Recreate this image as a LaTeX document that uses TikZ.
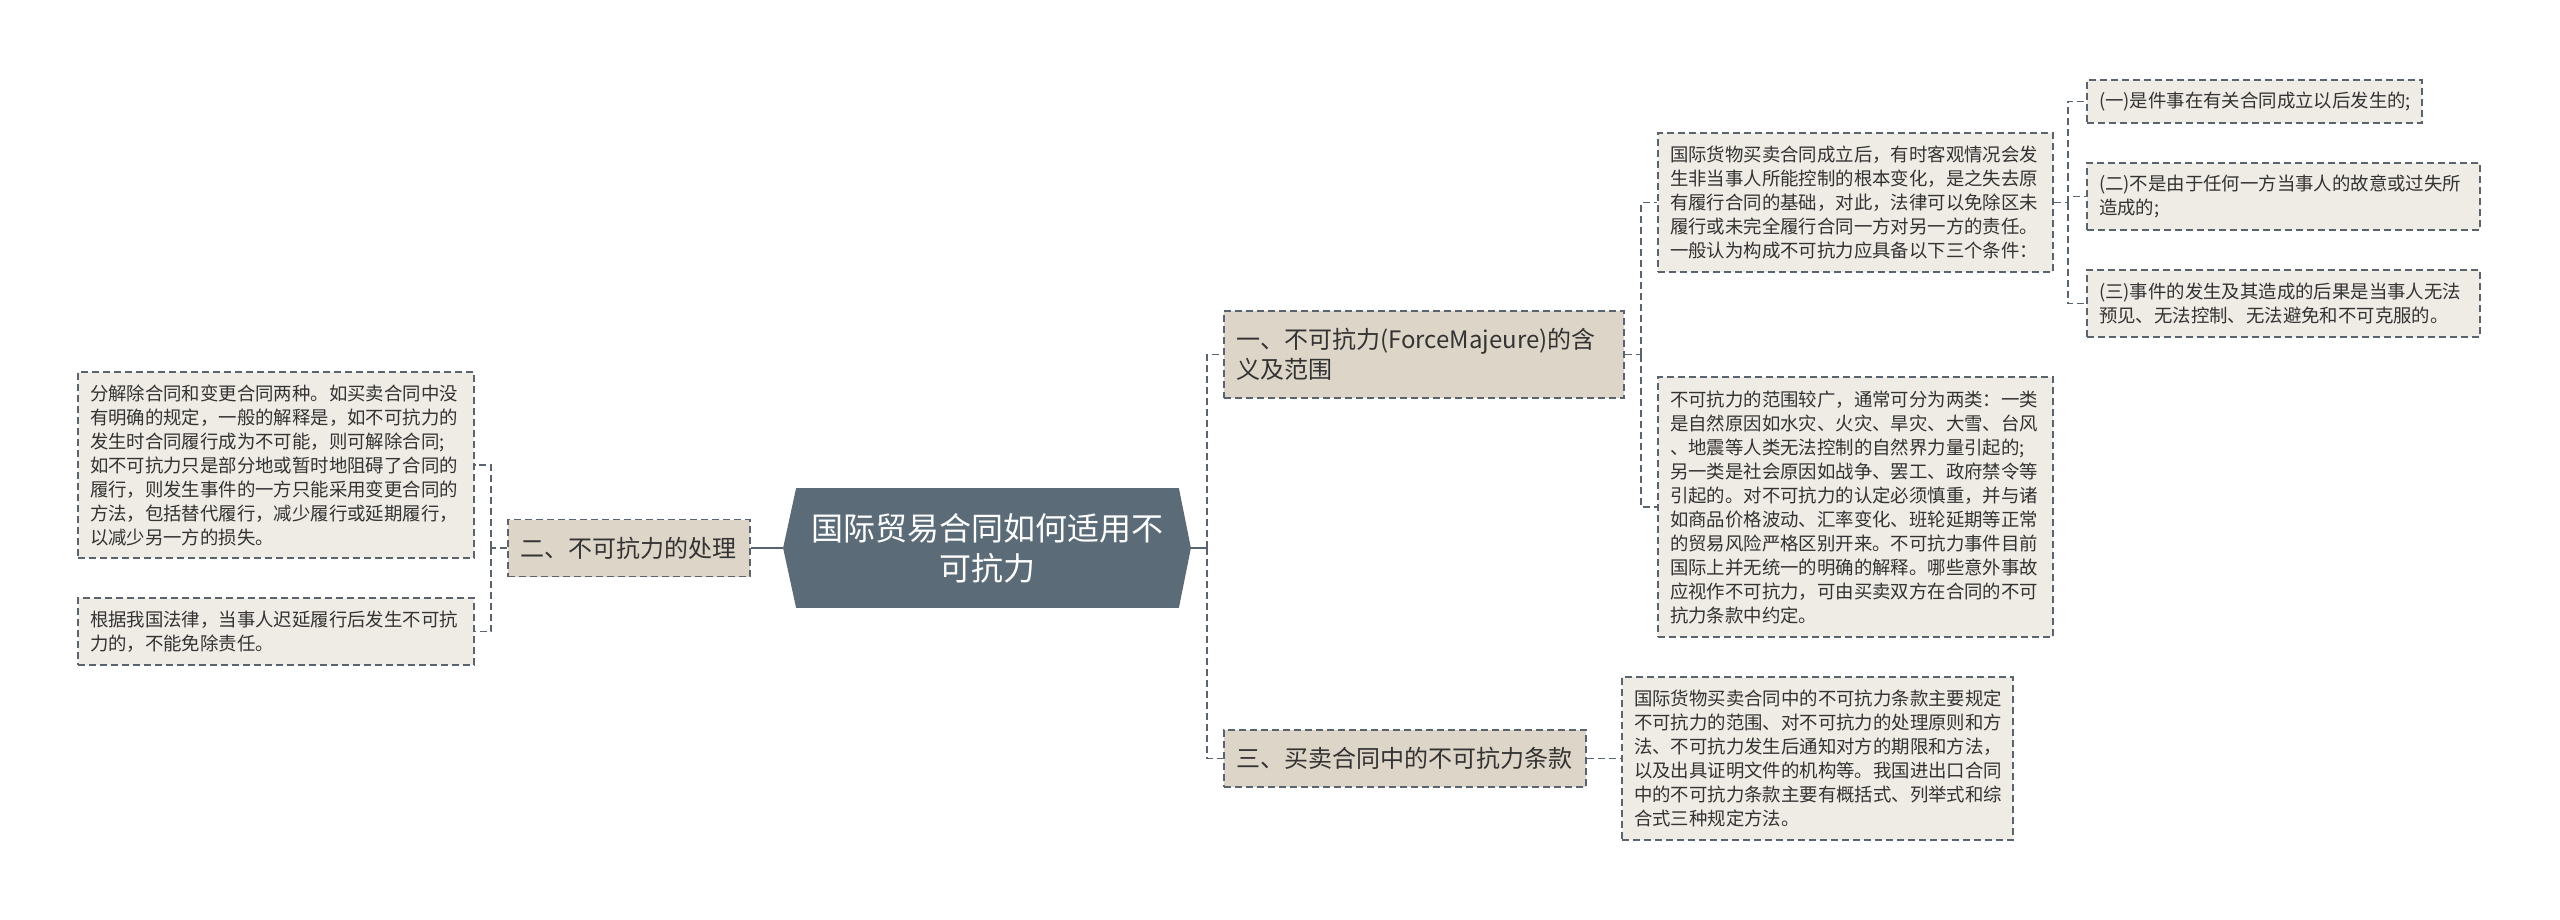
\documentclass[tikz,border=0pt]{standalone}
\usepackage{fontspec}
\setmainfont{Noto Sans CJK SC}
\usetikzlibrary{backgrounds}
\definecolor{rootfill}{HTML}{5B6C78}
\definecolor{branchfill}{HTML}{DDD5C8}
\definecolor{leaffill}{HTML}{EFEBE5}
\definecolor{linegray}{HTML}{5A646E}
\definecolor{textgray}{HTML}{333333}

\begin{document}
\begin{tikzpicture}[x=0.5pt,y=-0.5pt,
    dashline/.style={draw=linegray,line width=0.75pt,dash pattern=on 3.5pt off 2pt},
    rootline/.style={draw=linegray,line width=1pt},
    branch/.style={dashline,fill=branchfill,text=textgray,align=left,inner xsep=6pt,
      font=\fontsize{12}{15}\selectfont},
    leaf/.style={dashline,fill=leaffill,text=textgray,align=left,inner xsep=6pt,
      font=\fontsize{9.2}{12}\selectfont}]

  \useasboundingbox (0,0) rectangle (2560,920);

  \node (root) at (987,548) [minimum width=203.5pt,minimum height=59.5pt,align=center,
    text=white,font=\fontsize{16}{20}\selectfont] {国际贸易合同如何适用不\\可抗力};
  \begin{scope}[on background layer]
    \fill[rootfill] (root.west) -- ([xshift=6.5pt]root.north west) -- ([xshift=-6pt]root.north east)
      -- (root.east) -- ([xshift=-6pt]root.south east) -- ([xshift=6.5pt]root.south west) -- cycle;
  \end{scope}

  \begin{scope}[every node/.style={branch}]
    \node (br1) at (1424,354.5) [minimum width=200pt,minimum height=43.5pt,text width=188pt]
      {一、不可抗力(ForceMajeure)的含\\义及范围};
    \node (br2) at (629,548)    [minimum width=121pt,minimum height=28.5pt,text width=109pt]
      {二、不可抗力的处理};
    \node (br3) at (1405,758.5) [minimum width=181pt,minimum height=28.5pt,text width=169pt]
      {三、买卖合同中的不可抗力条款};
  \end{scope}

  \begin{scope}[every node/.style={leaf}]
    \node (ka) at (1855.5,202.5) [minimum width=197.5pt,minimum height=69.5pt,text width=185.5pt]
      {国际货物买卖合同成立后，有时客观情况会发\\生非当事人所能控制的根本变化，是之失去原\\有履行合同的基础，对此，法律可以免除区未\\履行或未完全履行合同一方对另一方的责任。\\一般认为构成不可抗力应具备以下三个条件：};
    \node (kb) at (1855.5,507) [minimum width=197.5pt,minimum height=130pt,text width=185.5pt]
      {不可抗力的范围较广，通常可分为两类：一类\\是自然原因如水灾、火灾、旱灾、大雪、台风\\、地震等人类无法控制的自然界力量引起的;\\另一类是社会原因如战争、罢工、政府禁令等\\引起的。对不可抗力的认定必须慎重，并与诸\\如商品价格波动、汇率变化、班轮延期等正常\\的贸易风险严格区别开来。不可抗力事件目前\\国际上并无统一的明确的解释。哪些意外事故\\应视作不可抗力，可由买卖双方在合同的不可\\抗力条款中约定。};
    \node (c1) at (2254.5,101.5) [minimum width=167.5pt,minimum height=21.5pt,text width=155.5pt]
      {(一)是件事在有关合同成立以后发生的;};
    \node (c2) at (2283.5,196.5) [minimum width=196.5pt,minimum height=33.5pt,text width=184.5pt]
      {(二)不是由于任何一方当事人的故意或过失所\\造成的;};
    \node (c3) at (2283.5,303.5) [minimum width=196.5pt,minimum height=33.5pt,text width=184.5pt]
      {(三)事件的发生及其造成的后果是当事人无法\\预见、无法控制、无法避免和不可克服的。};
    \node (kd) at (1817.5,758.5) [minimum width=195.5pt,minimum height=81.5pt,text width=183.5pt]
      {国际货物买卖合同中的不可抗力条款主要规定\\不可抗力的范围、对不可抗力的处理原则和方\\法、不可抗力发生后通知对方的期限和方法，\\以及出具证明文件的机构等。我国进出口合同\\中的不可抗力条款主要有概括式、列举式和综\\合式三种规定方法。};
    \node (l1) at (276,465) [minimum width=198pt,minimum height=93pt,text width=186pt]
      {分解除合同和变更合同两种。如买卖合同中没\\有明确的规定，一般的解释是，如不可抗力的\\发生时合同履行成为不可能，则可解除合同;\\如不可抗力只是部分地或暂时地阻碍了合同的\\履行，则发生事件的一方只能采用变更合同的\\方法，包括替代履行，减少履行或延期履行，\\以减少另一方的损失。};
    \node (l2) at (276,631.5) [minimum width=198pt,minimum height=33.5pt,text width=186pt]
      {根据我国法律，当事人迟延履行后发生不可抗\\力的，不能免除责任。};
  \end{scope}

  \coordinate (j0) at (1207,548);
  \coordinate (j1) at (1641,354.5);
  \coordinate (j2) at (491,548);
  \coordinate (j3) at (2068,202.5);

  \draw[rootline] (root.west) -- (br2.east);
  \draw[rootline] (root.east) -- (j0);
  \draw[dashline] (j0) |- (br1.west);
  \draw[dashline] (j0) |- (br3.west);
  \draw[dashline] (br2.west) -- (j2);
  \draw[dashline] (j2) |- (l1.east);
  \draw[dashline] (j2) |- (l2.east);
  \draw[dashline] (br1.east) -- (j1);
  \draw[dashline] (j1) |- (ka.west);
  \draw[dashline] (j1) |- (kb.west);
  \draw[dashline] (ka.east) -- (j3);
  \draw[dashline] (j3) |- (c1.west);
  \draw[dashline] (j3) |- (c2.west);
  \draw[dashline] (j3) |- (c3.west);
  \draw[dashline] (br3.east) -- (kd.west);

\end{tikzpicture}
\end{document}
